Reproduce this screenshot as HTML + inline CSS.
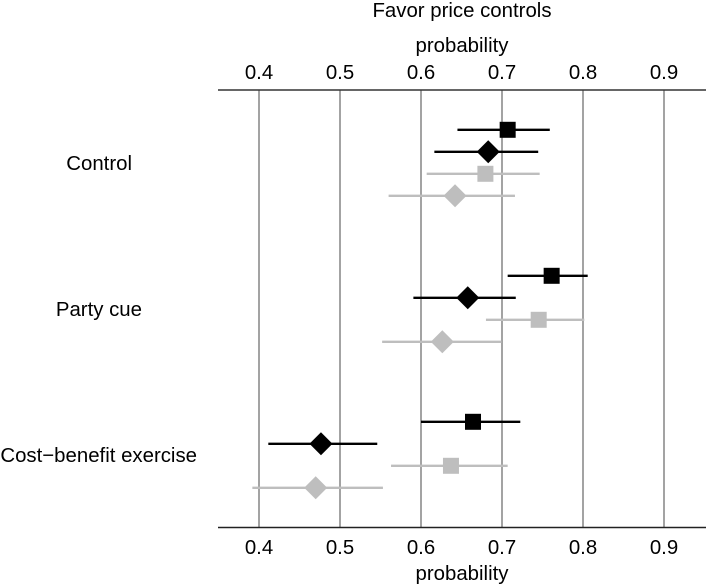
<!DOCTYPE html>
<html lang="en">
<head>
<meta charset="utf-8">
<title>Favor price controls</title>
<style>
html,body{margin:0;padding:0;background:#fff;width:706px;height:587px;overflow:hidden}
svg{display:block}
text{font-family:"Liberation Sans",Arial,sans-serif;fill:#000;font-size:20.4px}
</style>
</head>
<body>
<svg id="chart" width="706" height="587" viewBox="0 0 706 587" xmlns="http://www.w3.org/2000/svg">
<text x="462" y="17" text-anchor="middle">Favor price controls</text>
<text x="462" y="52" text-anchor="middle">probability</text>
<text x="462" y="580" text-anchor="middle">probability</text>
</svg>
<script>
const tickLabels = ['0.4', '0.5', '0.6', '0.7', '0.8', '0.9'];
const categories = ['Control', 'Party cue', 'Cost\u2212benefit exercise'];
const blackSquareEst = [0.707, 0.7613, 0.6642];
const blackSquareLow = [0.645, 0.707, 0.600];
const blackSquareHigh = [0.759, 0.8058, 0.7226];
const blackDiamondEst = [0.683, 0.6577, 0.4765];
const blackDiamondLow = [0.6165, 0.5906, 0.4115];
const blackDiamondHigh = [0.7447, 0.717, 0.546];
const graySquareEst = [0.6795, 0.7453, 0.637];
const graySquareLow = [0.607, 0.6802, 0.563];
const graySquareHigh = [0.7465, 0.8016, 0.707];
const grayDiamondEst = [0.642, 0.6263, 0.470];
const grayDiamondLow = [0.560, 0.552, 0.3918];
const grayDiamondHigh = [0.716, 0.6996, 0.553];

const svg = document.getElementById('chart');
const NS = 'http://www.w3.org/2000/svg';
const xScale = v => 259 + (v - 0.4) * 810;
const catY = i => 129.8 + i * 146;
const labelRight = [132, 142, 197];

function mk(tag, attrs, parent) {
  const el = document.createElementNS(NS, tag);
  for (const k in attrs) el.setAttribute(k, attrs[k]);
  (parent || svg).appendChild(el);
  return el;
}

tickLabels.forEach(t => {
  const x = Math.round(xScale(parseFloat(t)));
  const g = mk('line', {x1: x, x2: x, y1: 89.5, y2: 527.5, stroke: '#8c8c8c', 'stroke-width': 1.6});
  
  
  const top = mk('text', {x: x, y: 79, 'text-anchor': 'middle'});
  top.textContent = t;
  
  
  const bot = mk('text', {x: x, y: 554, 'text-anchor': 'middle'});
  bot.textContent = t;
  
  
});

const topAxis = mk('line', {x1: 218, x2: 706, y1: 90, y2: 90, stroke: '#333', 'stroke-width': 1.5});


const bottomAxis = mk('line', {x1: 218, x2: 706, y1: 527.5, y2: 527.5, stroke: '#222', 'stroke-width': 1.5});



categories.forEach((c, i) => {
  const t = mk('text', {x: labelRight[i], y: catY(i) + 40, 'text-anchor': 'end'});
  t.textContent = c;
  
  
});

function drawSeries(name, est, low, high, color, shape, offset) {
  est.forEach((v, i) => {
    const y = catY(i) + offset;
    const line = mk('line', {x1: xScale(low[i]), x2: xScale(high[i]), y1: y, y2: y, stroke: color, 'stroke-width': 2.3});
    
    
    const x = xScale(v);
    let mark;
    if (shape === 'square') {
      mark = mk('rect', {x: x - 8, y: y - 8, width: 16, height: 16, fill: color});
    } else {
      mark = mk('polygon', {points: [[x - 11.5, y], [x, y - 11.5], [x + 11.5, y], [x, y + 11.5]].map(p => p.join(',')).join(' '), fill: color});
    }
    
    
  });
}

drawSeries('black-square', blackSquareEst, blackSquareLow, blackSquareHigh, '#000', 'square', 0);
drawSeries('black-diamond', blackDiamondEst, blackDiamondLow, blackDiamondHigh, '#000', 'diamond', 22);
drawSeries('gray-square', graySquareEst, graySquareLow, graySquareHigh, '#bebebe', 'square', 44);
drawSeries('gray-diamond', grayDiamondEst, grayDiamondLow, grayDiamondHigh, '#bebebe', 'diamond', 66);
</script>
</body>
</html>
